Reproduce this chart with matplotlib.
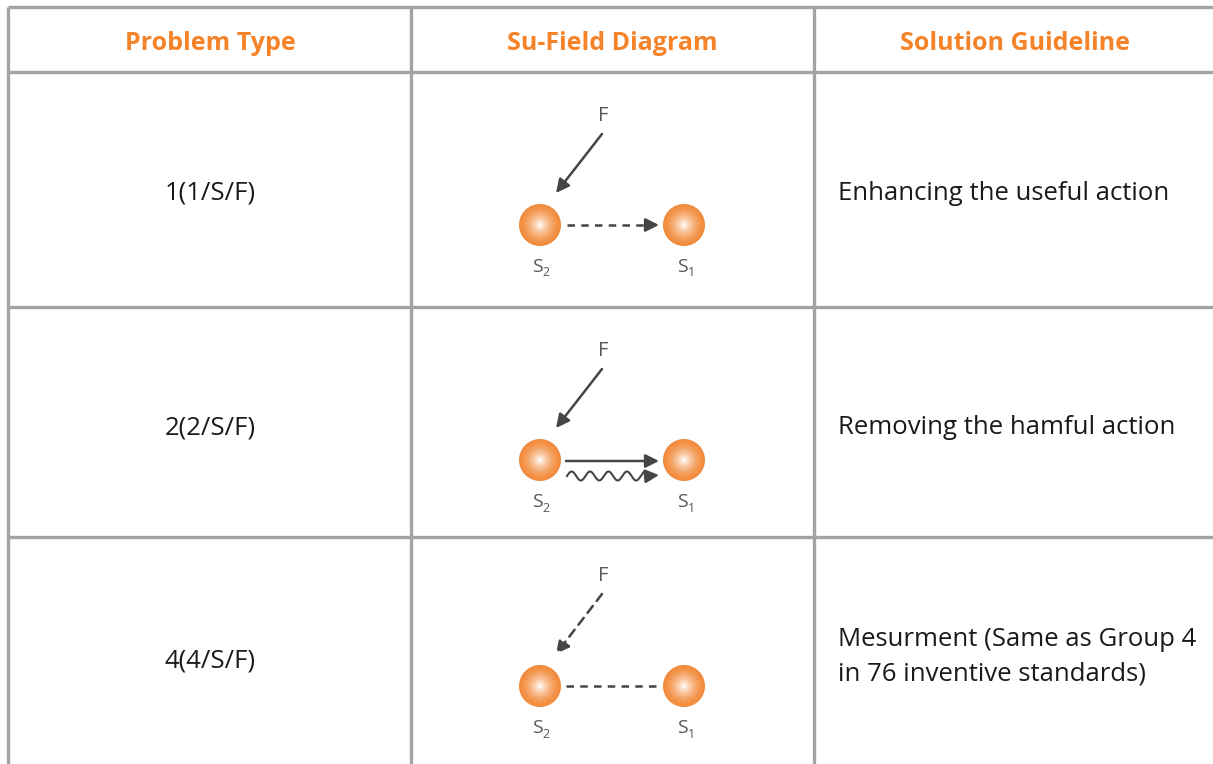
import numpy as np
import matplotlib
matplotlib.use("Agg")
import matplotlib.pyplot as plt
from matplotlib.patches import Circle, FancyArrowPatch
from matplotlib.colors import to_rgb

# table content
headers = ["Problem Type", "Su-Field Diagram", "Solution Guideline"]
problem_types = ["1(1/S/F)", "2(2/S/F)", "4(4/S/F)"]
guidelines = ["Enhancing the useful action",
              "Removing the hamful action",
              "Mesurment (Same as Group 4\nin 76 inventive standards)"]
# F arrow style and S2 -> S1 link style per row
field_styles = ["solid", "solid", "dashed"]
link_styles = ["dashed_arrow", "solid_and_wave", "dashed_line"]

ORANGE = "#f5832a"
GRID = "#a3a3a3"
DARK = "#454545"
LABEL = "#5a5a5a"
FONT = "Open Sans"

# layout in pixels
col_x = [8, 411, 814, 1220]
row_y = [7, 72, 307, 537, 770]
row_centers = [190, 425, 658]

fig = plt.figure(figsize=(12.13, 7.64), dpi=100)
ax = fig.add_axes([0, 0, 1, 1])
ax.set_xlim(0, 1213)
ax.set_ylim(764, 0)
ax.axis("off")

# grid lines
for y in row_y:
    ax.plot([col_x[0], col_x[-1]], [y, y], color=GRID, lw=2.4, solid_capstyle="butt")
for x in col_x[:-1]:
    ax.plot([x, x], [row_y[0], row_y[-1]], color=GRID, lw=2.4, solid_capstyle="butt")

# header
header_x = [210, 612, 1015]
for i, h in enumerate(headers):
    ax.text(header_x[i], 44, h, color=ORANGE, fontsize=18, fontweight="bold",
            family=FONT, ha="center", va="center")


def sphere(cx, cy, r=21):
    edge = np.array(to_rgb("#f28c3c"))
    white = np.array([1.0, 1.0, 1.0])
    n = 40
    for k in range(n):
        t = k / (n - 1)
        rr = r * (1 - t)
        frac = t ** 1.6
        col = edge * (1 - frac) + white * frac
        ax.add_patch(Circle((cx, cy), rr, color=col, lw=0, zorder=3))


def arrow(p0, p1, ls="-"):
    a = FancyArrowPatch(p0, p1, arrowstyle="-|>,head_length=8,head_width=4",
                        mutation_scale=1.0, color=DARK, lw=1.8, linestyle=ls,
                        shrinkA=0, shrinkB=0, zorder=4)
    ax.add_patch(a)


def s_label(x, y, sub):
    ax.text(x, y, "S", color=LABEL, fontsize=14, family=FONT, ha="center", va="center")
    ax.text(x + 9, y + 6, sub, color=LABEL, fontsize=9, family=FONT,
            ha="center", va="center")


for r in range(3):
    yc = row_centers[r]
    ax.text(210, yc + 3, problem_types[r], fontsize=18.5, family=FONT,
            color="#1a1a1a", ha="center", va="center")
    gy = yc + 3 if r < 2 else yc - 1
    ax.text(838, gy, guidelines[r], fontsize=18.5, family=FONT,
            color="#1a1a1a", ha="left", va="center", linespacing=1.5)

    sy = yc + 35 if r < 2 else yc + 28
    s2x, s1x = 540, 684
    sphere(s2x, sy)
    sphere(s1x, sy)
    s_label(s2x - 3, sy + 42, "2")
    s_label(s1x - 2, sy + 42, "1")

    fy = sy - 109 if r < 2 else sy - 110
    ax.text(603, fy, "F", color=LABEL, fontsize=14.5, family=FONT,
            ha="center", va="center")
    ls = "-" if field_styles[r] == "solid" else (0, (3.5, 2.5))
    arrow((602, fy + 18), (556, sy - 32), ls)

    if link_styles[r] == "dashed_arrow":
        ax.plot([567, 650], [sy, sy], color=DARK, lw=1.8, ls=(0, (3, 2.5)), zorder=4)
        arrow((648, sy), (659, sy))
    elif link_styles[r] == "solid_and_wave":
        arrow((566, sy + 1), (659, sy + 1))
        wx = np.linspace(567, 650, 200)
        wy = sy + 16 - 4.5 * np.sin((wx - 567) / 83 * 2 * np.pi * 4.5)
        ax.plot(wx, wy, color=DARK, lw=1.5, zorder=4)
        arrow((648, sy + 16), (659, sy + 15))
    else:
        ax.plot([566, 656], [sy, sy], color=DARK, lw=1.8, ls=(0, (3, 2.5)), zorder=4)

fig.savefig("out.png", dpi=100)
